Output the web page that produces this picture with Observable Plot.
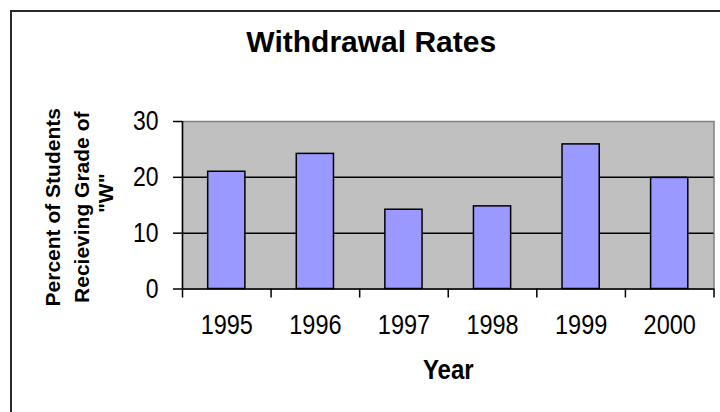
<!DOCTYPE html>
<html>
<head>
<meta charset="utf-8">
<script src="https://cdn.jsdelivr.net/npm/d3@7"></script>
<script src="https://cdn.jsdelivr.net/npm/@observablehq/plot@0.6"></script>
<style>
  html, body { margin: 0; padding: 0; background: #fff; }
  #wrap { position: relative; width: 720px; height: 412px; overflow: hidden; }
  #border { position: absolute; left: 10px; top: 10px; width: 780px; height: 480px;
            border-left: 2px solid #2a2a2a; border-top: 2px solid #2a2a2a; }
  #chart { position: absolute; left: 0; top: 0; }
</style>
</head>
<body>
<div id="wrap"><div id="border"></div><div id="chart"></div></div>
<script>
// ---- data ----
const years = [1995, 1996, 1997, 1998, 1999, 2000];
const rates = [21.0, 24.2, 14.2, 14.8, 25.9, 19.9];
const yTicks = [0, 10, 20, 30];
const gridValues = [10, 20];
const titleText = "Withdrawal Rates";
const xLabel = "Year";
const yLabelLines = ["Percent of Students", "Recieving Grade of"];
const yLabelLast = "\"W\"";

// ---- derived ----
const data = years.map((year, i) => ({year, rate: rates[i]}));
const boundaries = years.map(y => y - 0.5).concat([years[years.length - 1] + 0.5]);
const halfBar = 0.21;

const chart = Plot.plot({
  width: 720,
  height: 412,
  marginLeft: 182,
  marginRight: 6.5,
  marginTop: 121,
  marginBottom: 123.5,
  style: {fontFamily: "Arial, 'Liberation Sans', sans-serif", color: "#000", background: "transparent", overflow: "visible"},
  x: {type: "linear", domain: [boundaries[0], boundaries[boundaries.length - 1]]},
  y: {domain: [0, 30]},
  marks: [
    Plot.frame({fill: "#C0C0C0", stroke: "#808080", strokeWidth: 1.5}),
    Plot.ruleY(gridValues, {stroke: "#000", strokeWidth: 1.5}),
    Plot.rectY(data, {x1: d => d.year - halfBar, x2: d => d.year + halfBar, y: "rate",
                      fill: "#9999FF", stroke: "#000", strokeWidth: 1.5}),
    Plot.ruleY([0], {stroke: "#000", strokeWidth: 1.5}),
    Plot.ruleX([boundaries[0]], {stroke: "#000", strokeWidth: 1.5}),
    Plot.axisY({ticks: yTicks, tickSize: 9, tickPadding: 15, fontSize: 23, strokeWidth: 1.5,
                label: null, tickFormat: d => String(d)}),
    Plot.axisX({ticks: boundaries, tickSize: 9, strokeWidth: 1.5, label: null, tickFormat: () => ""}),
    Plot.axisX({ticks: years, tickSize: 0, tickPadding: 26.5, fontSize: 23.5, label: null,
                tickFormat: d => String(d)}),
    Plot.text([titleText], {frameAnchor: "top", textAnchor: "middle", lineAnchor: "middle",
                dx: -77, dy: -79, fontSize: 30, fontWeight: "bold"}),
    Plot.text([xLabel], {frameAnchor: "bottom", textAnchor: "middle", lineAnchor: "middle",
                dy: 81.5, fontSize: 24, fontWeight: "bold"}),
    Plot.text([yLabelLines.join("\n")], {frameAnchor: "left", textAnchor: "middle", lineAnchor: "middle",
                rotate: -90, dx: -117, dy: 2, fontSize: 21, fontWeight: "bold", lineHeight: 1.38}),
    Plot.text([yLabelLast], {frameAnchor: "left", textAnchor: "middle", lineAnchor: "middle",
                rotate: -90, dx: -76, dy: -12, fontSize: 21, fontWeight: "bold"})
  ]
});

document.getElementById("chart").append(chart);

// stretch the regular-weight labels vertically (about their own centre), like the original rendering
function stretch(t, s) {
  const b = t.getBBox();
  const cx = b.x + b.width / 2, cy = b.y + b.height / 2;
  const prev = t.getAttribute("transform") || "";
  t.setAttribute("transform", `${prev} translate(${cx},${cy}) scale(1,${s}) translate(${-cx},${-cy})`);
}
chart.querySelectorAll('g[aria-label="x-axis tick label"] text, g[aria-label="y-axis tick label"] text')
  .forEach(t => { if (t.textContent) stretch(t, 1.2); });
chart.querySelectorAll("text").forEach(t => { if (t.textContent === xLabel) stretch(t, 1.15); });
</script>
</body>
</html>
